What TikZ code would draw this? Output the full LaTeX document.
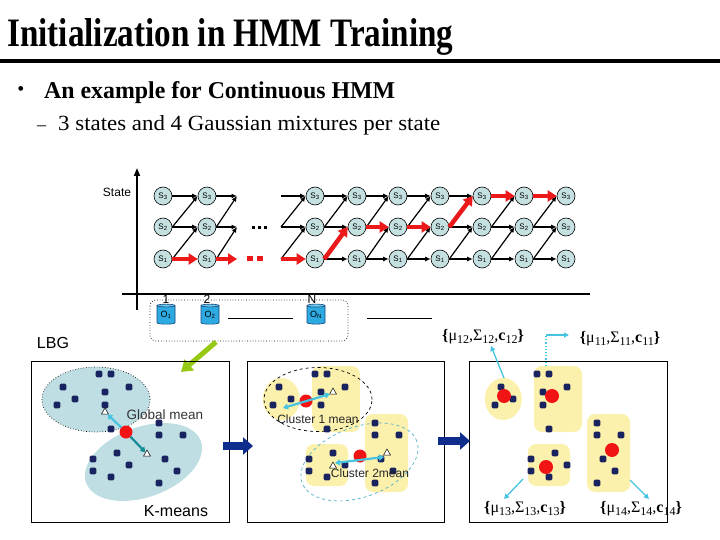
\documentclass[tikz,border=0pt]{standalone}
\usepackage{graphicx}
\usepackage{fontspec}
\setmainfont{Liberation Serif}
\setsansfont{Liberation Sans}
\usetikzlibrary{arrows.meta,shapes.geometric}
\newcommand{\rsFit}[3]{\resizebox{#1}{#2}{#3}}
\newcommand{\sbs}[1]{\raisebox{-2.5pt}{\fontsize{12}{12}\selectfont #1}}
\definecolor{nodefill}{RGB}{196,224,224}
\definecolor{redpath}{RGB}{235,25,25}
\definecolor{cylfill}{RGB}{45,170,225}
\definecolor{cyltop}{RGB}{110,200,240}
\definecolor{cyledge}{RGB}{20,70,120}
\definecolor{lightblue}{RGB}{190,222,228}
\definecolor{blobyellow}{RGB}{252,241,172}
\definecolor{dotnavy}{RGB}{25,35,95}
\definecolor{cyanarrow}{RGB}{70,195,225}
\definecolor{tealarrow}{RGB}{20,140,150}
\definecolor{navyarrow}{RGB}{15,45,140}
\definecolor{greenarrow}{RGB}{150,200,20}
\definecolor{dashcyan}{RGB}{80,175,200}
\definecolor{redball}{RGB}{240,20,20}
\tikzset{
  st/.style={circle,draw,line width=0.6pt,fill=nodefill,minimum size=18pt,inner sep=0pt,font=\sffamily\fontsize{8}{8}\selectfont},
  tr/.style={line width=1.2pt,-{Latex[length=5.5pt,width=5pt]}},
  rd/.style={draw=redpath,line width=4.5pt,-{Triangle[length=9pt,width=11pt]}},
  cyl/.style={cylinder,shape border rotate=90,aspect=0.25,draw=cyledge,line width=0.6pt,
     cylinder uses custom fill,cylinder body fill=cylfill,cylinder end fill=cyltop,
     minimum width=18pt,minimum height=20pt,inner sep=0pt,font=\sffamily\fontsize{9}{9}\selectfont},
  lab/.style={font=\sffamily\fontsize{12}{12}\selectfont,inner sep=0pt},
  tri/.style={regular polygon,regular polygon sides=3,draw,fill=white,line width=0.5pt,minimum size=8pt,inner sep=0pt},
  ball/.style={circle,fill=redball,minimum size=13pt,inner sep=0pt},
  frame/.style={draw,line width=0.8pt,minimum height=161pt,inner sep=0pt},
  ca/.style={cyanarrow,line width=2.2pt,-{Triangle[length=5pt,width=6pt]}},
  cda/.style={cyanarrow,line width=2.2pt,{Triangle[length=5pt,width=6pt]}-{Triangle[length=5pt,width=6pt]}},
  ta/.style={tealarrow,line width=2.2pt,-{Triangle[length=5pt,width=6pt]}},
  thin/.style={cyanarrow,line width=1.3pt,-{Triangle[length=5pt,width=5pt]}},
  big/.style={navyarrow,line width=8pt,-{Triangle[length=10pt,width=17pt]}},
  param/.style={font=\fontsize{16}{16}\selectfont,inner sep=0pt}
}
\begin{document}
\begin{tikzpicture}[x=1pt,y=-1pt]
\useasboundingbox (0,0) rectangle (720,540);
% ---------- header ----------
\node[anchor=base west,inner sep=0pt] (title) at (7,47) {\rsFit{446pt}{28pt}{\bfseries Initialization in HMM Training}};
\draw[line width=4.5pt] (0,61) -- (720,61);
\node[inner sep=0pt,font=\fontsize{20}{20}\selectfont] (bul) at (21,91) {\textbullet};
\node[anchor=base west,inner sep=0pt] (b1) at (44,99) {\rsFit{351pt}{17pt}{\bfseries An example for Continuous HMM}};
\node[anchor=base west,inner sep=0pt,font=\fontsize{18}{18}\selectfont] (dash) at (37,131) {--};
\node[anchor=base west,inner sep=0pt] (b2) at (58,131) {\rsFit{382pt}{15pt}{3 states and 4 Gaussian mixtures per state}};
% ---------- trellis axes ----------
\coordinate (ytop) at (137,168);
\coordinate (ybot) at (137,310);
\coordinate (xl) at (122,294);
\coordinate (xr) at (590,294);
\draw[line width=1.8pt,-{Triangle[length=8pt,width=6pt]}] (ybot) -- (ytop);
\draw[line width=1.8pt] (xl) -- (xr);
\node[lab] (state) at (117,192) {State};
% ---------- state nodes ----------
\foreach \c/\x in {a1/163,a2/207,b1/315,b2/357,b3/398,b4/440,b5/482,b6/524,b7/566}{
  \node[st] (\c r3) at (\x,196) {S\textsubscript{3}};
  \node[st] (\c r2) at (\x,227) {S\textsubscript{2}};
  \node[st] (\c r1) at (\x,259) {S\textsubscript{1}};
}
% black transitions
\foreach \s/\t in {a1/a2,b1/b2,b2/b3,b3/b4,b4/b5,b5/b6,b6/b7}{
  \draw[tr] (\s r3.east) -- (\t r3.west);
  \draw[tr] (\s r2.east) -- (\t r2.west);
  \draw[tr] (\s r1.east) -- (\t r1.west);
  \draw[tr] (\s r1.east) -- (\t r2.west);
  \draw[tr] (\s r2.east) -- (\t r3.west);
}
% half transitions
\coordinate (ha3) at (237,196); \coordinate (ha2) at (237,227); \coordinate (ha1) at (237,259);
\coordinate (hb3) at (281,196); \coordinate (hb2) at (281,227); \coordinate (hb1) at (281,259);
\draw[tr] (a2r3.east) -- (ha3);
\draw[tr] (a2r2.east) -- (ha2);
\draw[tr] (a2r2.east) -- (ha3);
\draw[tr] (a2r1.east) -- (ha2);
\draw[tr] (hb3) -- (b1r3.west);
\draw[tr] (hb2) -- (b1r2.west);
\draw[tr] (hb2) -- (b1r3.west);
\draw[tr] (hb1) -- (b1r2.west);
% dots
\foreach \x in {253,259,265} \fill (\x-1.5,226) rectangle ++(3,3);
\fill[redpath] (247,256) rectangle ++(6,5);
\fill[redpath] (257,256) rectangle ++(6,5);
% red best path
\draw[rd] (a1r1.east) -- (a2r1.west);
\draw[rd] (a2r1.east) -- (ha1);
\draw[rd] (hb1) -- (b1r1.west);
\draw[rd] (b1r1.east) -- (b2r2.west);
\draw[rd] (b2r2.east) -- (b3r2.west);
\draw[rd] (b3r2.east) -- (b4r2.west);
\draw[rd] (b4r2.east) -- (b5r3.west);
\draw[rd] (b5r3.east) -- (b6r3.west);
\draw[rd] (b6r3.east) -- (b7r3.west);
% ---------- observations ----------
\draw[dotted,line width=0.7pt,rounded corners=6pt] (150,300) rectangle (348,341);
\node[cyl] (o1) at (166,315) {O\textsubscript{1}};
\node[cyl] (o2) at (210,315) {O\textsubscript{2}};
\node[cyl] (oN) at (316,315) {O\textsubscript{N}};
\node[lab] (n1) at (166,299) {1};
\node[lab] (n2) at (207,299) {2};
\node[lab] (nN) at (312,299) {N};
\coordinate (l1a) at (228,318); \coordinate (l1b) at (293,318);
\coordinate (l2a) at (367,318); \coordinate (l2b) at (432,318);
\draw[line width=0.8pt] (l1a) -- (l1b);
\draw[line width=0.8pt] (l2a) -- (l2b);
% green arrow
\coordinate (g1) at (216,342); \coordinate (g2) at (181,372);
\draw[greenarrow,line width=5pt,-{Triangle[length=11pt,width=14pt]}] (g1) -- (g2);
\node[font=\sffamily\fontsize{16}{16}\selectfont,inner sep=0pt] (lbg) at (53,343) {LBG};
% ---------- boxes ----------
\node[frame,minimum width=198pt] (box1) at (130,441.5) {};
\node[frame,minimum width=197pt] (box2) at (345.5,441.5) {};
\node[frame,minimum width=198pt] (box3) at (568,441.5) {};
% box1 clusters
\fill[lightblue,rotate around={20:(143.5,462)}] (143.5,462) ellipse [x radius=61pt,y radius=35pt];
\filldraw[fill=lightblue,draw=black,dotted,line width=0.7pt] (96,399.5) ellipse [x radius=54pt,y radius=32.5pt];
% box2 clusters
\fill[blobyellow] (281.3,399) ellipse [x radius=18.5pt,y radius=21pt];
\fill[blobyellow,rounded corners=8pt] (312,366) rectangle (360,432);
\fill[blobyellow,rounded corners=8pt] (306,444) rectangle (348,486);
\fill[blobyellow,rounded corners=8pt] (365,414) rectangle (408,492);
\draw[dashed,line width=0.7pt] (318,399.5) ellipse [x radius=54pt,y radius=32pt];
\draw[dashcyan,dashed,line width=0.7pt,rotate around={20:(359.5,462)}] (359.5,462) ellipse [x radius=61pt,y radius=35pt];
% box3 clusters
\fill[blobyellow] (503.3,399) ellipse [x radius=18.5pt,y radius=21pt];
\fill[blobyellow,rounded corners=8pt] (534,366) rectangle (582,432);
\fill[blobyellow,rounded corners=8pt] (528,444) rectangle (570,486);
\fill[blobyellow,rounded corners=8pt] (587,414) rectangle (630,492);
% data points (same set in each box)
\foreach \dx in {0,216,438}{
  \foreach \x/\y in {99/374,111/374,63/387,129/387,105/392,75/399,57/405,105/405,111/429,159/423,159/435,183/435,117/453,93/459,129/465,165/459,93/471,111/477,177/471,159/483}{
    \fill[dotnavy,rounded corners=1.3pt] (\x+\dx-3.3,\y-3.3) rectangle ++(6.6,6.6);
  }
}
% box1 means
\node[ball] (gm) at (126,432) {};
\node[tri] (t1) at (105,412) {};
\node[tri] (t2) at (147,454) {};
\draw[ca] (gm) -- (t1);
\draw[ta] (gm) -- (t2);
\node[font=\sffamily\fontsize{13.5}{13.5}\selectfont,text=black!80,inner sep=0pt] (gml) at (165,415) {Global mean};
\node[font=\sffamily\fontsize{16}{16}\selectfont,inner sep=0pt] (km) at (176,511) {K-means};
% box2 means
\node[ball] (c1) at (306,401) {};
\node[ball] (c2) at (360,456) {};
\node[tri] (t3) at (333,392) {};
\node[tri] (t4) at (387,453) {};
\node[tri] (t5) at (333,466) {};
\coordinate (c1l) at (283,408); \coordinate (c1r) at (330,394);
\coordinate (c2l) at (335,463); \coordinate (c2r) at (384,457);
\draw[cda] (c1l) -- (c1r);
\draw[cda] (c2l) -- (c2r);
\node[lab,text=black!85] (cl1) at (318,419) {Cluster 1 mean};
\node[lab,text=black!85] (cl2) at (370,473) {Cluster 2mean};
% box3 means
\node[ball,minimum size=14pt] (m12) at (504,396) {};
\node[ball,minimum size=14pt] (m11) at (552,396) {};
\node[ball,minimum size=14pt] (m13) at (546,467) {};
\node[ball,minimum size=14pt] (m14) at (612,450) {};
% arrows between boxes
\coordinate (a1s) at (223,446); \coordinate (a1e) at (253,446);
\coordinate (a2s) at (438,441); \coordinate (a2e) at (470,441);
\draw[big] (a1s) -- (a1e);
\draw[big] (a2s) -- (a2e);
% parameter labels
\node[param] (p12) at (483,337) {\textbf{\{}μ\sbs{12},Σ\sbs{12},\textbf{c}\sbs{12}\textbf{\}}};
\node[param] (p11) at (620,339) {\textbf{\{}μ\sbs{11},Σ\sbs{11},\textbf{c}\sbs{11}\textbf{\}}};
\node[param] (p13) at (525,509) {\textbf{\{}μ\sbs{13},Σ\sbs{13},\textbf{c}\sbs{13}\textbf{\}}};
\node[param] (p14) at (641,509) {\textbf{\{}μ\sbs{14},Σ\sbs{14},\textbf{c}\sbs{14}\textbf{\}}};
\coordinate (q12a) at (504,378); \coordinate (q12b) at (491,346);
\coordinate (q11a) at (546,366); \coordinate (q11b) at (546,335); \coordinate (q11c) at (569,335);
\coordinate (q13a) at (523,479); \coordinate (q13b) at (504,499);
\coordinate (q14a) at (630,480); \coordinate (q14b) at (649,499);
\draw[thin] (q12a) -- (q12b);
\draw[cyanarrow,dotted,line width=1.2pt] (q11a) -- (q11b);
\draw[thin] (q11b) -- (q11c);
\draw[thin] (q13a) -- (q13b);
\draw[thin] (q14a) -- (q14b);
\end{tikzpicture}
\end{document}
